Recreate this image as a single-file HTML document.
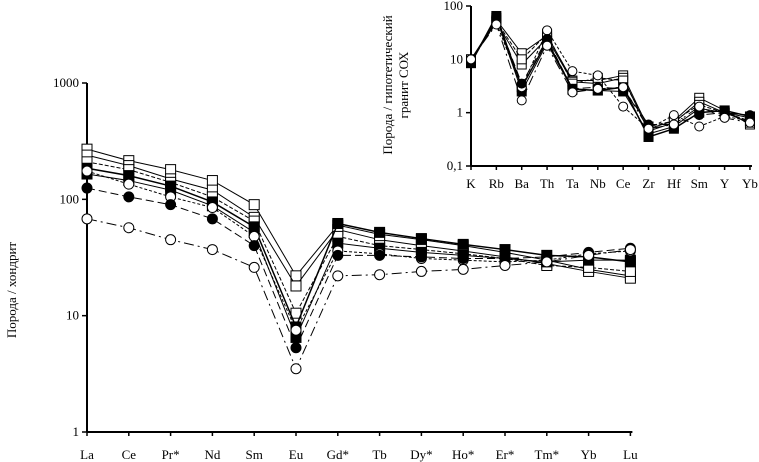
<!DOCTYPE html>
<html><head><meta charset="utf-8"><style>
html,body{margin:0;padding:0;background:#fff}
svg{display:block;font-family:"Liberation Serif",serif}
text{font-size:13px;fill:#000}
</style></head><body>
<svg id="chart" width="759" height="462" viewBox="0 0 759 462" xmlns="http://www.w3.org/2000/svg">
<g id="main"></g>
<g id="inset"></g>
<text transform="translate(16,290) rotate(-90)" text-anchor="middle">Порода / хондрит</text>
<text transform="translate(392,85) rotate(-90)" text-anchor="middle">Порода / гипотетический</text>
<text transform="translate(408,85) rotate(-90)" text-anchor="middle">гранит СОХ</text>
</svg>
<script>
const mainCats=["La","Ce","Pr*","Nd","Sm","Eu","Gd*","Tb","Dy*","Ho*","Er*","Tm*","Yb","Lu"];
const mainTicks=[1,10,100,1000];
const m1=[270,215,180,145,90,22,60,50,45,40,35,30,25,22];
const m2=[240,195,150,120,70,18,55,45,40,36,32,28,24,21];
const m3=[210,180,140,105,65,10.5,48,40,37,34,31,27,26,24];
const m4=[185,160,130,95,58,8,62,52,46,41,37,33,32,29];
const m5=[165,145,120,88,52,6.5,42,38,35,33,31,29,30,30];
const m6=[175,135,105,85,48,7.5,36,34,31,30,29,30,34,36];
const m7=[125,105,90,68,40,5.3,33,33,32,31,31,32,35,38];
const m8=[68,57,45,37,26,3.5,22,22.5,24,25,27,29,33,37];

const insetCats=["K","Rb","Ba","Th","Ta","Nb","Ce","Zr","Hf","Sm","Y","Yb"];
const insetTicks=[0.1,1,10,100];
const insetTickLabels=["0,1","1","10","100"];
const i1=[10,55,13,28,4,4,5,0.5,0.7,1.9,1.1,0.6];
const i2=[10,50,8,25,3.8,3.5,4.5,0.45,0.65,1.6,1.0,0.65];
const i3=[9,52,10,30,3.5,4.5,4,0.55,0.7,1.4,1.0,0.7];
const i4=[8.5,65,3,22,2.8,2.6,3,0.35,0.5,1.0,1.1,0.85];
const i5=[8.5,60,2.5,20,2.7,2.6,2.5,0.4,0.55,1.2,1.0,0.8];
const i6=[10,48,3,35,6,5,1.3,0.5,0.9,0.55,0.85,0.7];
const i7=[9,62,3.5,24,2.8,3,2.8,0.6,0.6,0.9,1.0,0.9];
const i8=[10,45,1.7,18,2.4,2.8,3,0.5,0.6,1.3,0.8,0.65];

const styles=[
 {m:"sq",f:"#fff",d:"",w:1},{m:"sq",f:"#fff",d:"",w:1},{m:"sq",f:"#fff",d:"4,2",w:1},
 {m:"sq",f:"#000",d:"",w:1.5},{m:"sq",f:"#000",d:"",w:1},{m:"ci",f:"#fff",d:"3,2",w:1},
 {m:"ci",f:"#000",d:"8,4",w:1},{m:"ci",f:"#fff",d:"10,4,2,4",w:1}];
const NS="http://www.w3.org/2000/svg";
function mk(p,t,a){const e=document.createElementNS(NS,t);for(const k in a)e.setAttribute(k,a[k]);p.appendChild(e);return e;}

function draw(g,cats,series,ticks,labels,x0,step,yTop,yBot,dMin,dMax,ms,pref){
 const x=i=>x0+i*step;
 const y=v=>yBot-(Math.log10(v)-Math.log10(dMin))/(Math.log10(dMax)-Math.log10(dMin))*(yBot-yTop);
 const xEnd=x(cats.length-1);
 const ya=mk(g,"line",{x1:x0,y1:yTop,x2:x0,y2:yBot,stroke:"#000","stroke-width":2});
 
 
 const xa=mk(g,"line",{x1:x0,y1:yBot,x2:xEnd+2,y2:yBot,stroke:"#000","stroke-width":2});
 
 
 ticks.forEach((t,i)=>{
  mk(g,"line",{x1:x0-5,y1:y(t),x2:x0,y2:y(t),stroke:"#000","stroke-width":1.5});
  const tx=mk(g,"text",{x:x0-8,y:y(t)+4,"text-anchor":"end"});tx.textContent=labels[i];
  
  
 });
 cats.forEach((c,i)=>{
  mk(g,"line",{x1:x(i),y1:yBot,x2:x(i),y2:yBot+4,stroke:"#000","stroke-width":1.5});
  const tx=mk(g,"text",{x:x(i),y:yBot+(pref==="main"?27:22),"text-anchor":"middle"});tx.textContent=c;
  
  
 });
 series.forEach((s,k)=>{
  const st=styles[k];
  const pts=s.map((v,i)=>x(i)+","+y(v)).join(" ");
  const pl=mk(g,"polyline",{points:pts,fill:"none",stroke:"#000","stroke-width":st.w,"stroke-dasharray":st.d});
  
  
  s.forEach((v,i)=>{
   let e;
   if(st.m==="sq") e=mk(g,"rect",{x:x(i)-ms/2,y:y(v)-ms/2,width:ms,height:ms,fill:st.f,stroke:"#000","stroke-width":1});
   else e=mk(g,"circle",{cx:x(i),cy:y(v),r:ms/2,fill:st.f,stroke:"#000","stroke-width":1});
   
   
  });
 });
}
draw(document.getElementById("main"),mainCats,[m1,m2,m3,m4,m5,m6,m7,m8],mainTicks,["1","10","100","1000"],87,41.8,83,432,1,1000,10,"main");
draw(document.getElementById("inset"),insetCats,[i1,i2,i3,i4,i5,i6,i7,i8],insetTicks,insetTickLabels,471,25.36,6,166,0.1,100,9,"inset");
</script>
</body></html>
